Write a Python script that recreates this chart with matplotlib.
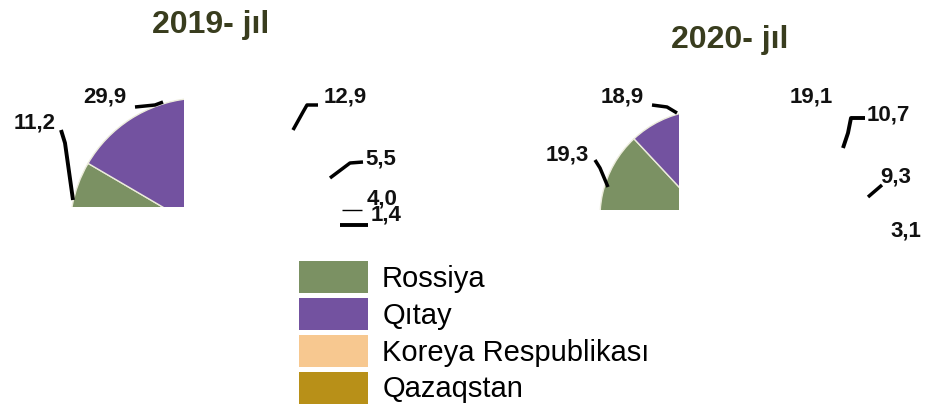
import matplotlib.pyplot as plt
from matplotlib.patches import Rectangle, Patch

plt.rcParams['font.family'] = ['Liberation Sans', 'DejaVu Sans']

# data
years = ['2019- jıl', '2020- jıl']
countries = ['Rossiya', 'Qıtay', 'Koreya Respublikası', 'Qazaqstan']
shares_2019 = [11.2, 29.9, 12.9, 5.5, 4.0, 1.4]
shares_2020 = [19.3, 18.9, 19.1, 10.7, 9.3, 3.1]
country_colors = ['#7b9163', '#7352a0', '#f7c890', '#b89018']

W, H = 927, 405

def py(y):
    # picture pixel rows -> data y
    return H - y

# layout (pixels in the picture): centres x, baselines y
pie_center = [(202, 230), (707, 217)]
pie_radius = [132, 107]
pie_start = [190, 202.5]
pie_clip = [(184, 207), (679, 210)]
title_pos = [(211, 33), (730, 48)]
label_pos = [
    [(35, 128), (105, 102), (345, 102), (381, 165), (382, 204), (386, 221)],
    [(567, 160), (622, 102), (811, 102), (888, 120), (896, 183), (906, 237)],
]
leaders = [
    [[(61, 130), (65, 143), (73, 200)],
     [(135, 107), (155, 105), (163, 102)],
     [(293, 130), (303, 112), (307, 105), (318, 105)],
     [(330, 178), (350, 163), (363, 162)],
     [(342, 210), (362, 210)],
     [(340, 225), (368, 225)]],
    [[(595, 160), (600, 168), (608, 187)],
     [(652, 105), (667, 107), (677, 113)],
     [],
     [(843, 148), (848, 133), (851, 118), (865, 118)],
     [(868, 197), (882, 185)],
     []],
]
leader_width = [[2.8, 2.5, 2.5, 2.5, 1.0, 2.8], [2.5, 2.5, 0, 2.8, 2.5, 0]]

fig = plt.figure(figsize=(W / 100, H / 100), dpi=100)
ax = fig.add_axes([0, 0, 1, 1])

for i, shares in enumerate([shares_2019, shares_2020]):
    cx, cy = pie_center[i]
    colors = country_colors + ['none'] * (len(shares) - len(country_colors))
    wedges, _ = ax.pie([s / 100 for s in shares], colors=colors,
                       center=(cx, py(cy)), radius=pie_radius[i],
                       startangle=pie_start[i], counterclock=False,
                       normalize=False,
                       wedgeprops=dict(edgecolor='#ececdc', linewidth=1.0))
    # only the upper-left part of each pie shows in the picture
    clip_x, clip_y = pie_clip[i]
    clip = Rectangle((0, py(clip_y)), clip_x, clip_y, transform=ax.transData)
    for w in wedges:
        w.set_clip_on(True)
        w.set_clip_path(clip)

    ax.text(title_pos[i][0], py(title_pos[i][1]), years[i], ha='center',
            va='baseline', fontsize=23, fontweight='bold', color='#393d1e')

    for j, s in enumerate(shares):
        lx, ly = label_pos[i][j]
        ax.text(lx, py(ly), f'{s:.1f}'.replace('.', ','), ha='center',
                va='baseline', fontsize=16, fontweight='bold', color='#111111')
        pts = leaders[i][j]
        if pts:
            ax.plot([p[0] for p in pts], [py(p[1]) for p in pts], color='black',
                    lw=leader_width[i][j], solid_capstyle='butt')

handles = [Patch(facecolor=c, edgecolor='none') for c in country_colors]
ax.legend(handles, countries, loc='upper left',
          bbox_to_anchor=(299 / W, 1 - 261 / H), bbox_transform=fig.transFigure,
          frameon=False, fontsize=21, borderpad=0, borderaxespad=0,
          handlelength=2.35, handleheight=1.32, handletextpad=0.5,
          labelspacing=0.16)

ax.set_xlim(0, W)
ax.set_ylim(0, H)
ax.set_aspect('auto')
ax.axis('off')

plt.savefig('out.png', dpi=100)
